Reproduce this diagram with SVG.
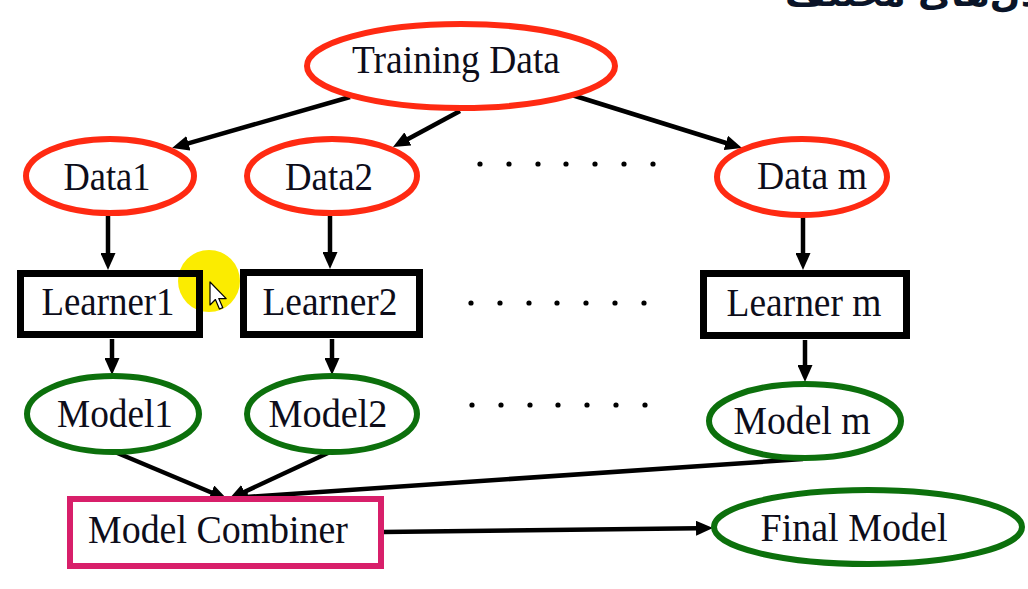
<svg xmlns="http://www.w3.org/2000/svg" width="1028" height="589" viewBox="0 0 1028 589">
  <style>
    .lbl { font-family: "Liberation Serif", "Times New Roman", serif; font-size: 40px; fill: #0d0d1a; text-anchor: middle; }
    .red { fill: #ffffff; stroke: #ff2a12; stroke-width: 6; }
    .grn { fill: #ffffff; stroke: #0c700c; stroke-width: 6; }
    .box { fill: none; stroke: #000000; stroke-width: 7; }
    .mag { fill: #ffffff; stroke: #d81f6a; stroke-width: 6; }
    .con line { stroke: #000000; stroke-width: 4.5; marker-end: url(#ah); }
    .dot { fill: #000000; }
  </style>
  <defs>
    <marker id="ah" markerWidth="17" markerHeight="15" refX="2" refY="7.5" orient="auto" markerUnits="userSpaceOnUse">
      <path d="M0,0 L17,7.5 L0,15 z" fill="#000000"/>
    </marker>
  </defs>
  <rect x="0" y="0" width="1028" height="589" fill="#ffffff"/>

  <text x="785" y="6" font-family="DejaVu Sans, sans-serif" font-size="36" font-weight="bold" fill="#0a1428">مدل‌های مختلف</text>

  <g id="connectors" class="con">
    <line x1="350" y1="97" x2="186.5" y2="143.8"/>
    <line x1="460" y1="111" x2="406.2" y2="139.9"/>
    <line x1="572" y1="95" x2="727.7" y2="143.5"/>
    <line x1="108" y1="215" x2="108" y2="255"/>
    <line x1="330" y1="215" x2="330" y2="254"/>
    <line x1="803" y1="217" x2="803" y2="255"/>
    <line x1="112" y1="339" x2="112" y2="360"/>
    <line x1="332" y1="339" x2="332" y2="360"/>
    <line x1="805" y1="340" x2="805" y2="367"/>
    <line x1="115" y1="452" x2="213.2" y2="493.2"/>
    <line x1="330" y1="452" x2="242.6" y2="492.7"/>
    <line x1="803" y1="459" x2="246" y2="497"/>
    <line x1="383" y1="532" x2="698" y2="528.2"/>
  </g>

  <circle id="cursor-highlight" cx="209" cy="281" r="31" fill="#fbec00"/>

  <g id="training-data">
    <ellipse class="red" cx="461" cy="66" rx="154" ry="42"/>
    <text class="lbl" x="456" y="73" textLength="208" lengthAdjust="spacingAndGlyphs">Training Data</text>
  </g>
  <g id="data1">
    <ellipse class="red" cx="110" cy="176" rx="84" ry="37"/>
    <text class="lbl" x="107" y="190" textLength="87" lengthAdjust="spacingAndGlyphs">Data1</text>
  </g>
  <g id="data2">
    <ellipse class="red" cx="332" cy="176" rx="85" ry="37"/>
    <text class="lbl" x="329" y="190" textLength="88" lengthAdjust="spacingAndGlyphs">Data2</text>
  </g>
  <g id="data-m">
    <ellipse class="red" cx="802" cy="177" rx="85" ry="38"/>
    <text class="lbl" x="812" y="189" textLength="110" lengthAdjust="spacingAndGlyphs">Data m</text>
  </g>

  <g id="learner1">
    <rect class="box" x="20.5" y="273.5" width="179" height="61"/>
    <text class="lbl" x="108" y="315" textLength="133" lengthAdjust="spacingAndGlyphs">Learner1</text>
  </g>
  <g id="learner2">
    <rect class="box" x="243.5" y="272.5" width="176" height="62"/>
    <text class="lbl" x="330" y="315" textLength="135" lengthAdjust="spacingAndGlyphs">Learner2</text>
  </g>
  <g id="learner-m">
    <rect class="box" x="703.5" y="273.5" width="203" height="62"/>
    <text class="lbl" x="804" y="316" textLength="155" lengthAdjust="spacingAndGlyphs">Learner m</text>
  </g>

  <g id="model1">
    <ellipse class="grn" cx="113" cy="414" rx="86" ry="38"/>
    <text class="lbl" x="115" y="427" textLength="116" lengthAdjust="spacingAndGlyphs">Model1</text>
  </g>
  <g id="model2">
    <ellipse class="grn" cx="332" cy="414" rx="85" ry="38"/>
    <text class="lbl" x="328" y="427" textLength="119" lengthAdjust="spacingAndGlyphs">Model2</text>
  </g>
  <g id="model-m">
    <ellipse class="grn" cx="805" cy="421" rx="96" ry="37"/>
    <text class="lbl" x="802" y="434" textLength="137" lengthAdjust="spacingAndGlyphs">Model m</text>
  </g>

  <g id="model-combiner">
    <rect class="mag" x="70" y="499" width="311" height="67"/>
    <text class="lbl" x="218" y="543" textLength="260" lengthAdjust="spacingAndGlyphs">Model Combiner</text>
  </g>
  <g id="final-model">
    <ellipse class="grn" cx="868" cy="527" rx="154" ry="37"/>
    <text class="lbl" x="854" y="541" textLength="187" lengthAdjust="spacingAndGlyphs">Final Model</text>
  </g>

  <g id="ellipsis-dots">
    <circle class="dot" cx="480" cy="164" r="2.6"/>
    <circle class="dot" cx="509" cy="164" r="2.6"/>
    <circle class="dot" cx="538" cy="164" r="2.6"/>
    <circle class="dot" cx="566" cy="164" r="2.6"/>
    <circle class="dot" cx="595" cy="164" r="2.6"/>
    <circle class="dot" cx="624" cy="164" r="2.6"/>
    <circle class="dot" cx="653" cy="164" r="2.6"/>
    <circle class="dot" cx="471" cy="303" r="2.6"/>
    <circle class="dot" cx="500" cy="303" r="2.6"/>
    <circle class="dot" cx="529" cy="303" r="2.6"/>
    <circle class="dot" cx="557" cy="303" r="2.6"/>
    <circle class="dot" cx="586" cy="303" r="2.6"/>
    <circle class="dot" cx="615" cy="303" r="2.6"/>
    <circle class="dot" cx="644" cy="303" r="2.6"/>
    <circle class="dot" cx="472" cy="405" r="2.6"/>
    <circle class="dot" cx="501" cy="405" r="2.6"/>
    <circle class="dot" cx="530" cy="405" r="2.6"/>
    <circle class="dot" cx="558" cy="405" r="2.6"/>
    <circle class="dot" cx="587" cy="405" r="2.6"/>
    <circle class="dot" cx="616" cy="405" r="2.6"/>
    <circle class="dot" cx="645" cy="405" r="2.6"/>
  </g>

  <path id="mouse-pointer" transform="translate(210,282) scale(1.35)" d="M0,0 L0,17 L4,13 L7,20 L9.5,19 L6.5,12.3 L12,12.3 Z" fill="#ffffff" stroke="#000000" stroke-width="0.9" stroke-linejoin="round"/>
</svg>
